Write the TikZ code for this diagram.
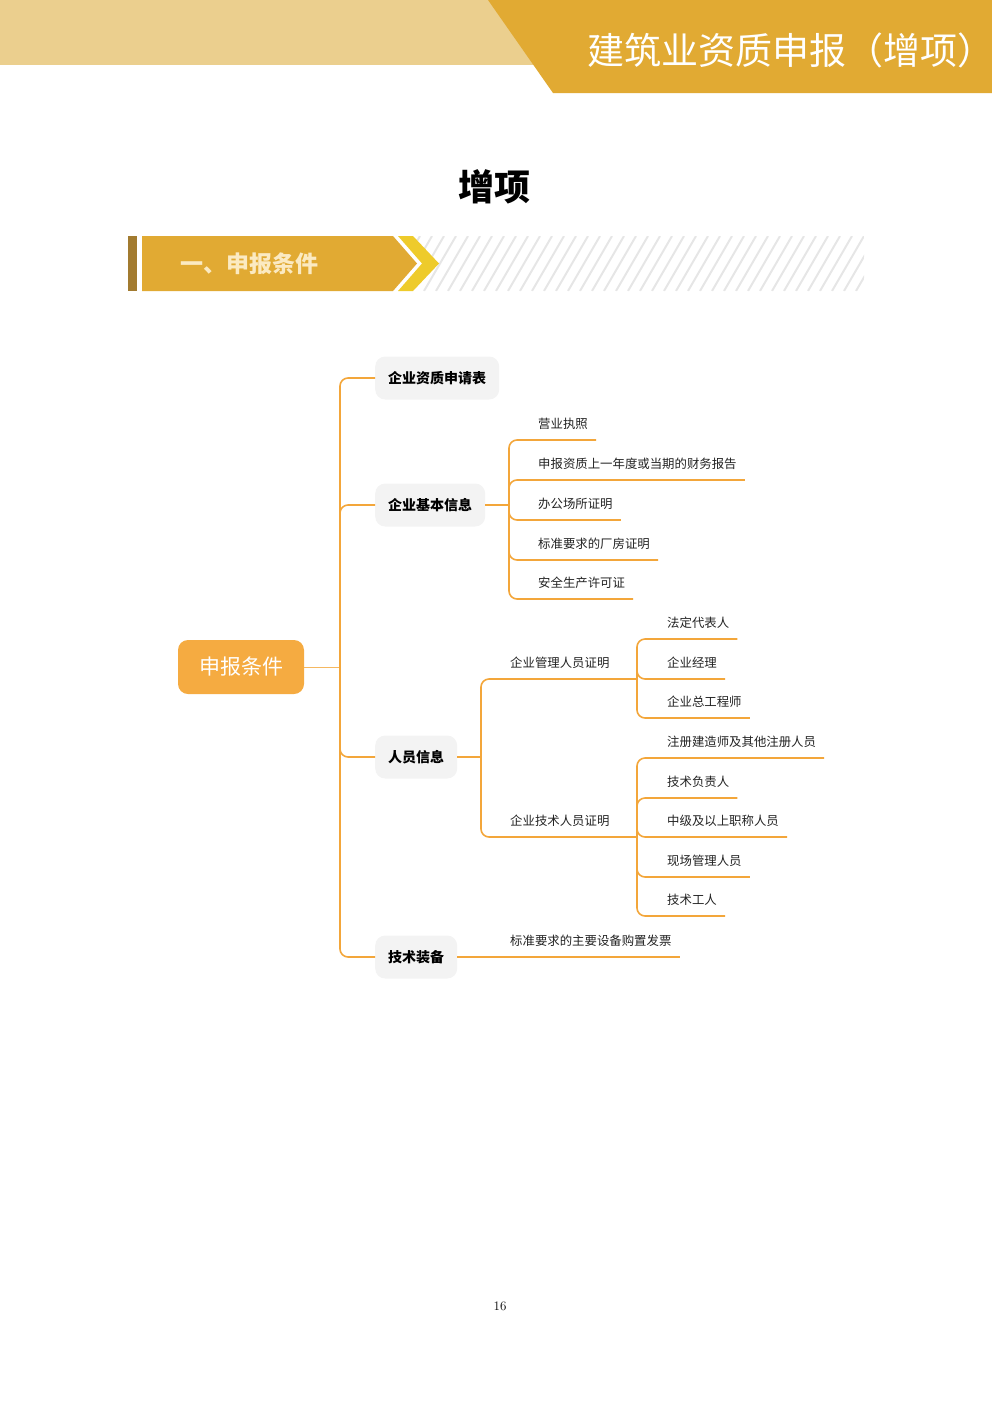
\documentclass[tikz,border=0pt]{standalone}
\usepackage{fontspec}
\newfontfamily\cjk{Noto Sans CJK SC}
\usepackage{tikz}
\usetikzlibrary{calc,positioning}
\definecolor{headlight}{HTML}{EBCF8E}
\definecolor{headgold}{HTML}{E1AA33}
\definecolor{bardark}{HTML}{A27B30}
\definecolor{chevyellow}{HTML}{EECB2B}
\definecolor{stripegray}{HTML}{E6E6E6}
\definecolor{rootorange}{HTML}{F5AB41}
\definecolor{linecol}{HTML}{F3A63A}
\definecolor{topicgray}{HTML}{F3F3F3}
\definecolor{leaftext}{HTML}{222222}
\definecolor{secttext}{HTML}{FBEAC2}
\tikzstyle{root} = [fill=rootorange, rounded corners=10pt, minimum width=126pt, minimum height=54pt, text=white, font=\cjk\fontsize{21}{24}\selectfont]
\tikzstyle{topic} = [fill=topicgray, rounded corners=10pt, minimum height=43pt, inner xsep=13pt, anchor=west, text=black, font=\cjk\bfseries\fontsize{14}{16}\selectfont]
\tikzstyle{leaf} = [anchor=base west, inner sep=0pt, text=leaftext, font=\cjk\fontsize{12.4}{14}\selectfont]
\tikzstyle{branch} = [draw=linecol, line width=1.6pt, rounded corners=8pt]
\tikzstyle{stem} = [draw=linecol!80, line width=0.8pt]

\begin{document}
\begin{tikzpicture}[x=1pt,y=-1pt]
  \useasboundingbox (0,0) rectangle (992,1403);
  % header band
  \fill[headlight] (0,0) rectangle (540,65);
  \fill[headgold] (488,0) -- (992,0) -- (992,93) -- (553,93) -- cycle;
  \node[text=white, font=\cjk\fontsize{37}{40}\selectfont] (head) at (791,50) {建筑业资质申报（增项）};
  \node[font=\cjk\bfseries\fontsize{36}{40}\selectfont] (title) at (494,187) {增项};

  % section banner
  \begin{scope}
    \clip (413,236) -- (864,236) -- (864,291) -- (413,291) -- (439,263.5) -- cycle;
    \foreach \i in {0,...,40}
      \draw[stripegray, line width=2pt] (388+12*\i,291) -- (420+12*\i,236);
  \end{scope}
  \fill[bardark] (128,236) rectangle (137,291);
  \fill[headgold] (142,236) -- (393,236) -- (417,263.5) -- (393,291) -- (142,291) -- cycle;
  \fill[chevyellow] (398,236) -- (413,236) -- (439,263.5) -- (413,291) -- (398,291) -- (422,263.5) -- cycle;
  \node[text=secttext, font=\cjk\bfseries\fontsize{23}{26}\selectfont, anchor=west] (sect) at (177,264) {一、申报条件};

  % mind map
  \node[root] (rt) at (241,667) {申报条件};
  \coordinate (j0) at (340,667);
  \draw[stem] (rt.east) -- (j0);

  \node[topic] (t1) at (375,378) {企业资质申请表};
  \node[topic] (t2) at (375,505) {企业基本信息};
  \node[topic] (t3) at (375,757) {人员信息};
  \node[topic] (t4) at (375,957) {技术装备};
  \foreach \t in {t1,t2,t3,t4}
    \draw[branch] (j0) |- (\t.west);

  % basic information
  \coordinate (j1) at (509,505);
  \draw[branch] (t2.east) -- (j1);
  \node[leaf] (b1) at (538,428) {营业执照};
  \node[leaf] (b2) at (538,468) {申报资质上一年度或当期的财务报告};
  \node[leaf] (b3) at (538,508) {办公场所证明};
  \node[leaf] (b4) at (538,548) {标准要求的厂房证明};
  \node[leaf] (b5) at (538,587) {安全生产许可证};
  \foreach \b in {b1,b2,b3,b4,b5}
    \draw[branch] (j1) |- ($(\b.base east)+(8,12)$);

  % personnel
  \coordinate (j2) at (481,757);
  \draw[branch] (t3.east) -- (j2);
  \node[leaf] (m1) at (510,667) {企业管理人员证明};
  \node[leaf] (m2) at (510,825) {企业技术人员证明};
  \coordinate (j3) at (637,679);
  \coordinate (j4) at (637,837);
  \draw[branch] (j2) |- (j3);
  \draw[branch] (j2) |- (j4);

  \node[leaf] (p1) at (667,627) {法定代表人};
  \node[leaf] (p2) at (667,667) {企业经理};
  \node[leaf] (p3) at (667,706) {企业总工程师};
  \foreach \p in {p1,p2,p3}
    \draw[branch] (j3) |- ($(\p.base east)+(8,12)$);

  \node[leaf] (q1) at (667,746) {注册建造师及其他注册人员};
  \node[leaf] (q2) at (667,786) {技术负责人};
  \node[leaf] (q3) at (667,825) {中级及以上职称人员};
  \node[leaf] (q4) at (667,865) {现场管理人员};
  \node[leaf] (q5) at (667,904) {技术工人};
  \foreach \q in {q1,q2,q3,q4,q5}
    \draw[branch] (j4) |- ($(\q.base east)+(8,12)$);

  % equipment
  \node[leaf] (e1) at (510,945) {标准要求的主要设备购置发票};
  \draw[branch] (t4.east) -- ($(e1.base east)+(8,12)$);

  \node[font=\fontsize{13}{15}\selectfont] (pg) at (500,1306) {16};
\end{tikzpicture}
\end{document}
